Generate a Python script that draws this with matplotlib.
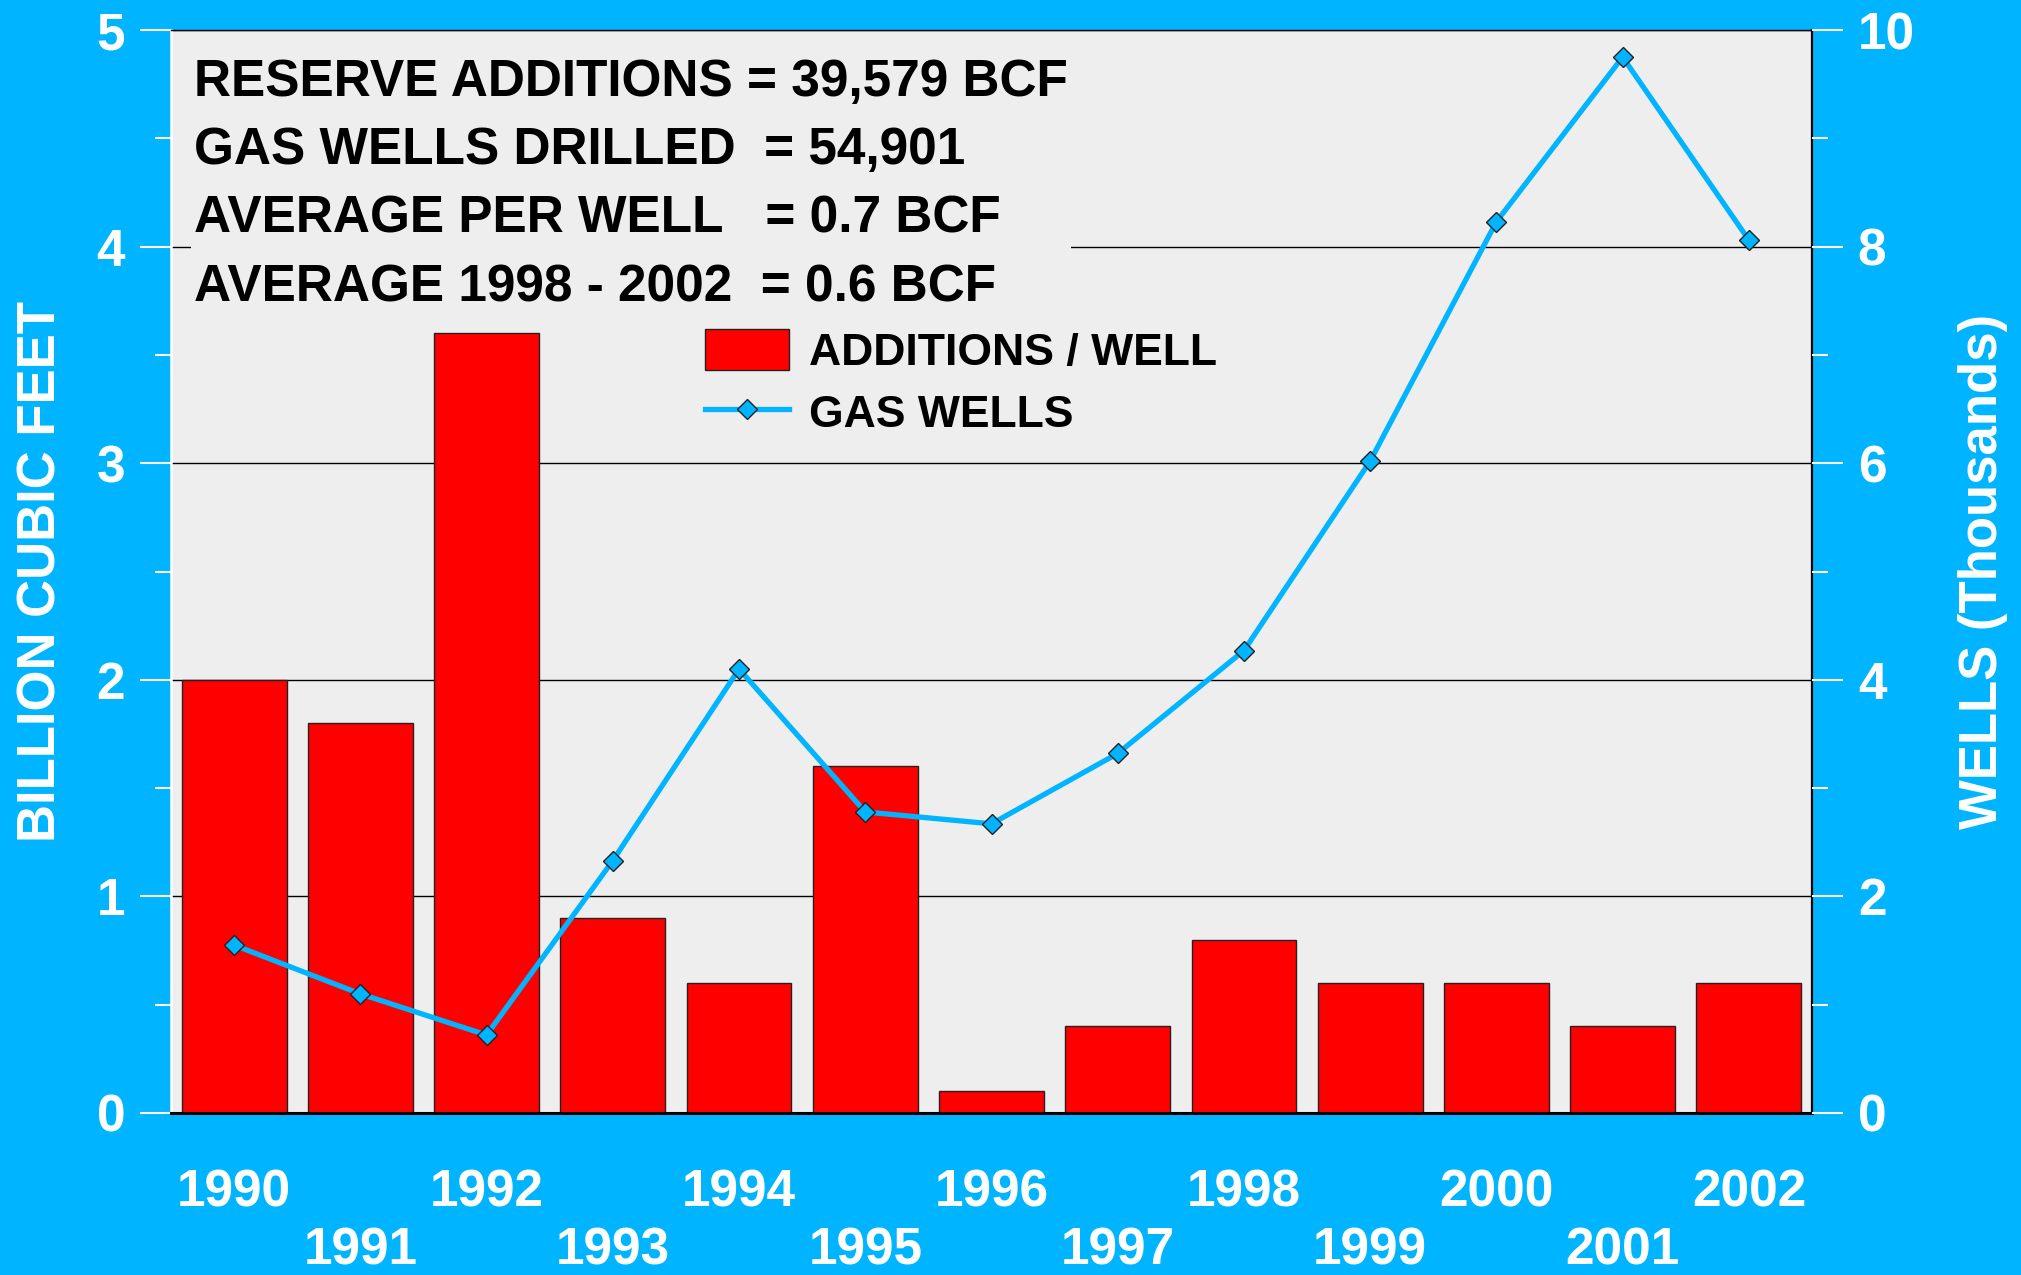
import matplotlib
matplotlib.use('Agg')
import numpy as np
import matplotlib.pyplot as plt
from matplotlib import font_manager
from matplotlib.ticker import MultipleLocator

# ---------------- data ----------------
years = ['1990', '1991', '1992', '1993', '1994', '1995', '1996',
         '1997', '1998', '1999', '2000', '2001', '2002']
additions_per_well = [2.0, 1.8, 3.6, 0.9, 0.6, 1.6, 0.1, 0.4, 0.8, 0.6, 0.6, 0.4, 0.6]
gas_wells_thousands = [1.55, 1.10, 0.72, 2.33, 4.10, 2.78, 2.67, 3.32, 4.27, 6.02, 8.23, 9.75, 8.06]
stats_lines = ["RESERVE ADDITIONS = 39,579 BCF",
               "GAS WELLS DRILLED  = 54,901",
               "AVERAGE PER WELL   = 0.7 BCF",
               "AVERAGE 1998 - 2002  = 0.6 BCF"]
left_ticks = [0, 1, 2, 3, 4, 5]
right_ticks = [0, 2, 4, 6, 8, 10]
series_labels = ['ADDITIONS / WELL', 'GAS WELLS']
left_label = 'BILLION CUBIC FEET'
right_label = 'WELLS (Thousands)'

# ---------------- style ----------------
BLUE = '#00B4FF'
RED = '#FF0000'
PANEL = '#EEEEEE'
FAM = ['Liberation Sans', 'DejaVu Sans']
plt.rcParams['font.family'] = FAM
plt.rcParams['font.weight'] = 'bold'

names = {f.name for f in font_manager.fontManager.ttflist}
if 'Liberation Sans Narrow' in names:
    label_fam, label_size = ['Liberation Sans Narrow', 'Liberation Sans'], 45
else:
    label_fam, label_size = FAM, 38

W, H = 2021, 1275
fig = plt.figure(figsize=(W / 100, H / 100), dpi=100, facecolor=BLUE)
L, R, T, B = 171, 1812, 30, 1113
ax = fig.add_axes([L / W, 1 - B / H, (R - L) / W, (B - T) / H])
ax.set_facecolor(PANEL)

x = np.arange(len(years))
bars = ax.bar(x, additions_per_well, width=0.83, color=RED, edgecolor='#222222',
              linewidth=1.0, zorder=2)
ax.set_xlim(-0.5, len(years) - 0.5)
ax.set_ylim(0, 5)
ax.set_axisbelow(True)
ax.yaxis.grid(True, which='major', color='black', linewidth=1.0)
ax.xaxis.grid(False)

# x tick labels in two staggered rows
ax.set_xticks(x[0::2], years[0::2])
ax.set_xticks(x[1::2], years[1::2], minor=True)
ax.tick_params(axis='x', which='both', length=0, labelsize=37, labelcolor='white')
ax.tick_params(axis='x', which='major', pad=40)
ax.tick_params(axis='x', which='minor', pad=82)

ax.set_yticks(left_ticks)
ax.yaxis.set_minor_locator(MultipleLocator(0.5))
ax.tick_params(axis='y', which='major', direction='out', length=22, width=1.5,
               color='white', labelcolor='white', labelsize=37, pad=11)
ax.tick_params(axis='y', which='minor', direction='out', length=11.5, width=1.5,
               color='white')

for side, col, lw in [('top', 'black', 1.0), ('right', 'black', 1.6),
                      ('bottom', 'black', 2.2), ('left', 'white', 1.8)]:
    ax.spines[side].set_color(col)
    ax.spines[side].set_linewidth(lw)

ax2 = ax.twinx()
line, = ax2.plot(x, gas_wells_thousands, color=BLUE, linewidth=3.8, marker='D',
                 markersize=10.5, markerfacecolor=BLUE, markeredgecolor='#222222',
                 markeredgewidth=1.0, zorder=3)
ax2.set_ylim(0, 10)
ax2.set_yticks(right_ticks)
ax2.yaxis.set_minor_locator(MultipleLocator(1))
ax2.tick_params(axis='y', which='major', direction='out', length=22, width=1.5,
                color='white', labelcolor='white', labelsize=37, pad=11)
ax2.tick_params(axis='y', which='minor', direction='out', length=11.5, width=1.5,
                color='white')
for s in ax2.spines.values():
    s.set_visible(False)

# statistics block
ax.text((194 - L) / (R - L), 1 - (185 - T) / (B - T), "\n".join(stats_lines),
        transform=ax.transAxes, fontsize=37.0, fontweight='bold', color='black',
        ha='left', va='center', linespacing=1.51, zorder=3,
        bbox=dict(boxstyle='square,pad=0.06', fc=PANEL, ec='none'))

# legend
ax2.legend([bars, line], series_labels, loc='upper left',
           bbox_to_anchor=(705 / W, 1 - 329 / H), bbox_transform=fig.transFigure,
           frameon=False, prop={'family': FAM, 'weight': 'bold', 'size': 32},
           handlelength=1.88, handleheight=1.04, handletextpad=0.47,
           labelspacing=0.4, borderpad=0, borderaxespad=0)

# axis labels
ax.set_ylabel(left_label, color='white', fontweight='bold', fontsize=label_size,
              family=label_fam, rotation=90, rotation_mode='anchor', va='baseline')
ax.yaxis.set_label_coords((56 - L) / (R - L), 0.5)
ax2.set_ylabel(right_label, color='white', fontweight='bold', fontsize=label_size,
               family=label_fam, rotation=90, rotation_mode='anchor', va='baseline')
ax2.yaxis.set_label_coords((1997 - L) / (R - L), 0.5)

fig.savefig('out.png', dpi=100, facecolor=BLUE)
